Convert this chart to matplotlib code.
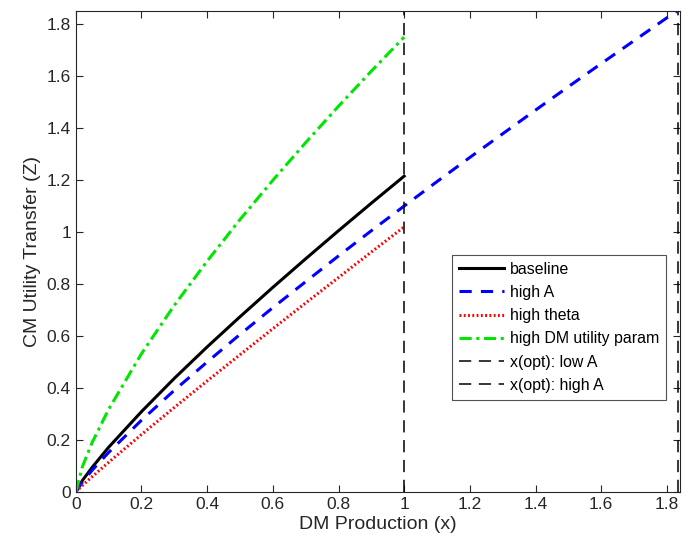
import numpy as np
import matplotlib.pyplot as plt

# values
x_short = [0, 0.02, 0.05, 0.1, 0.2, 0.3, 0.4, 0.5, 0.6, 0.7, 0.8, 0.9, 1.0]
baseline = [0, 0.044, 0.095, 0.172, 0.309, 0.437, 0.558, 0.674, 0.787, 0.897, 1.005, 1.111, 1.215]
high_theta = [0, 0.025, 0.059, 0.114, 0.221, 0.325, 0.427, 0.528, 0.628, 0.727, 0.825, 0.923, 1.02]
high_dm = [0, 0.097, 0.191, 0.318, 0.532, 0.718, 0.888, 1.048, 1.199, 1.344, 1.484, 1.619, 1.75]

x_long = [0, 0.02, 0.05, 0.1, 0.2, 0.3, 0.4, 0.5, 0.6, 0.7, 0.8, 0.9, 1.0,
          1.1, 1.2, 1.3, 1.4, 1.5, 1.6, 1.7, 1.8, 1.84]
high_A = [0, 0.038, 0.084, 0.152, 0.276, 0.391, 0.500, 0.606, 0.709, 0.809, 0.908, 1.005, 1.1,
          1.194, 1.287, 1.378, 1.469, 1.559, 1.648, 1.736, 1.824, 1.858]

x_opt_low = 1.0
x_opt_high = 1.835

plt.rcParams['font.family'] = ['Liberation Sans', 'DejaVu Sans']
axcol = (0.15, 0.15, 0.15)

fig = plt.figure(figsize=(6.83, 5.54), dpi=100)
ax = fig.add_axes([0.111, 0.112, 0.8846, 0.868])

ax.plot(x_short, baseline, color='black', lw=2.2, label='baseline')
ax.plot(x_long, high_A, color='blue', lw=2.2, ls=(0, (4, 3)), label='high A')
ax.plot(x_short, high_theta, color='red', lw=2.2, ls=(0, (0.6, 0.8)), label='high theta')
ax.plot(x_short, high_dm, color=(0, 0.9, 0), lw=2.2, ls=(0, (4, 1.5, 1, 1.5)),
        label='high DM utility param')
ax.axvline(x_opt_low, color='black', lw=1.1, ls=(0, (8, 5)), label='x(opt): low A')
ax.axvline(x_opt_high, color='black', lw=1.1, ls=(0, (8, 5)), label='x(opt): high A')

ax.set_xlim(0, 1.84)
ax.set_ylim(0, 1.85)
ax.set_xticks(np.arange(0, 1.81, 0.2))
ax.set_yticks(np.arange(0, 1.81, 0.2))
ax.set_xticklabels(['0', '0.2', '0.4', '0.6', '0.8', '1', '1.2', '1.4', '1.6', '1.8'])
ax.set_yticklabels(['0', '0.2', '0.4', '0.6', '0.8', '1', '1.2', '1.4', '1.6', '1.8'])
ax.tick_params(direction='in', top=True, right=True, length=5, width=0.8,
               colors=axcol, labelsize=12.5, labelcolor=axcol)
for s in ax.spines.values():
    s.set_color(axcol)
    s.set_linewidth(0.8)

ax.set_xlabel('DM Production (x)', fontsize=14, color=axcol, labelpad=3)
ax.set_ylabel('CM Utility Transfer (Z)', fontsize=14, color=axcol)

leg = ax.legend(loc='upper left', bbox_to_anchor=(0.61, 0.51), fontsize=11.4,
                frameon=True, fancybox=False, edgecolor=axcol, handlelength=2.8,
                handletextpad=0.4, labelspacing=0.52, borderpad=0.45)
leg.get_frame().set_linewidth(0.8)

fig.savefig('out.png', dpi=100)
